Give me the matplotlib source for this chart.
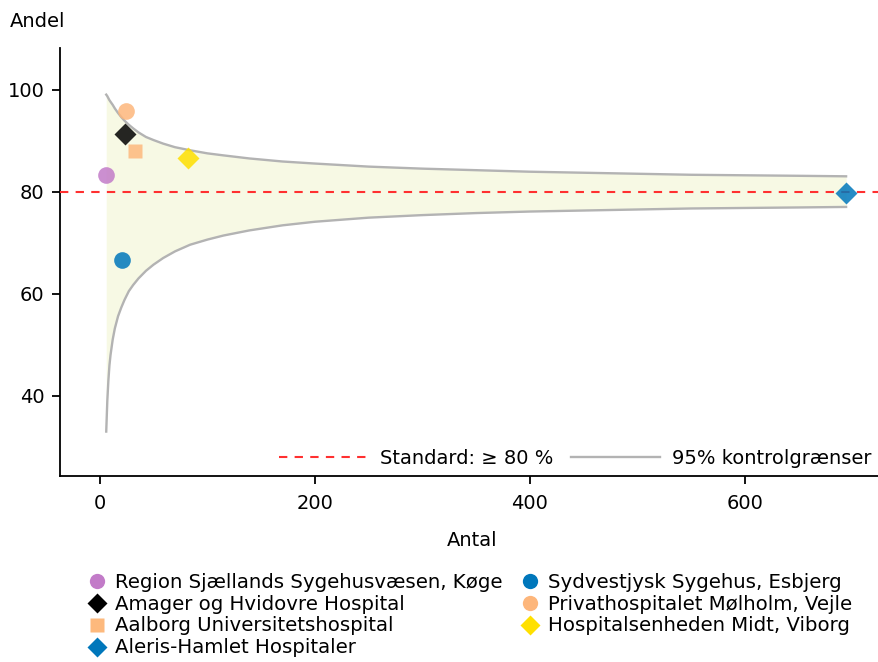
import matplotlib.pyplot as plt
from matplotlib.lines import Line2D

# hospitals: number of patients (Antal) and share (Andel, %)
hospitals = ["Region Sjællands Sygehusvæsen, Køge", "Amager og Hvidovre Hospital",
             "Aalborg Universitetshospital", "Aleris-Hamlet Hospitaler",
             "Sydvestjysk Sygehus, Esbjerg", "Privathospitalet Mølholm, Vejle",
             "Hospitalsenheden Midt, Viborg"]
antal = [6, 23, 33, 694, 21, 24, 82]
andel = [83.3, 91.3, 87.9, 79.8, 66.7, 95.8, 86.6]
markers = ["o", "D", "s", "D", "o", "o", "D"]
colors = ["#c27bc8", "#000000", "#fdb97d", "#0077bb", "#0077bb", "#fdb67b", "#ffe000"]

standard = 80

# 95% control limits
limit_n = [6, 7, 8, 9, 10, 12, 14, 17, 20, 23, 27, 31, 36, 43, 50, 59, 70, 84,
           100, 115, 139, 170, 200, 250, 300, 350, 400, 450, 500, 550, 600, 650, 694]
upper = [99.0, 98.7, 98.3, 97.9, 97.6, 97.0, 96.3, 95.4, 94.6, 93.9, 93.1, 92.4, 91.6, 90.7,
         90.1, 89.4, 88.7, 88.1, 87.5, 87.1, 86.5, 85.9, 85.5, 84.9, 84.5, 84.2, 83.9, 83.7,
         83.5, 83.3, 83.2, 83.1, 83.0]
lower = [33.0, 39.0, 43.0, 46.0, 48.0, 51.0, 53.2, 55.6, 57.3, 58.8, 60.5, 61.7, 63.0, 64.5,
         65.7, 67.0, 68.3, 69.6, 70.6, 71.4, 72.4, 73.4, 74.1, 74.9, 75.4, 75.8, 76.1, 76.3,
         76.5, 76.7, 76.8, 76.9, 77.0]

plt.rcParams['font.family'] = ['DejaVu Sans']
fig = plt.figure(figsize=(8.79, 6.62), dpi=100)
ax = fig.add_axes([0.068, 0.281, 0.932, 0.647])

ax.fill_between(limit_n, lower, upper, color="#f7f9e4", lw=0, zorder=1)
ax.plot(limit_n, upper, color="#b3b3b3", lw=1.7, zorder=2)
ax.plot(limit_n, lower, color="#b3b3b3", lw=1.7, zorder=2)
ax.axhline(standard, color="#ff3030", lw=1.5, ls=(0, (4, 3.5)), zorder=3)

for n, p, m, c in zip(antal, andel, markers, colors):
    size = 12 if m == "o" else (10.5 if m == "s" else 11)
    ax.plot(n, p, marker=m, color=c, ms=size, ls="none", alpha=0.85, mec="none", zorder=4)

ax.set_xlim(-37.2, 724.6)
ax.set_ylim(24.3, 108.2)
ax.set_xticks([0, 200, 400, 600])
ax.set_yticks([40, 60, 80, 100])
ax.spines[['top', 'right']].set_visible(False)
ax.spines[['left', 'bottom']].set_linewidth(1.3)
ax.tick_params(length=6, width=1.3, labelsize=14)
ax.tick_params(axis='x', pad=7)
ax.tick_params(axis='y', pad=5)

line_handles = [Line2D([], [], color="#ff3030", lw=1.5, ls=(0, (4, 3.5))),
                Line2D([], [], color="#b3b3b3", lw=1.7)]
ax.legend(line_handles, ["Standard: ≥ 80 %", "95% kontrolgrænser"], loc="lower right",
          ncol=2, frameon=False, fontsize=14, handlelength=4.6, columnspacing=0.9,
          handletextpad=0.6, borderaxespad=0.2, borderpad=0.2)

fig.text(0.011, 0.968, "Andel", fontsize=14, ha="left", va="center")
fig.text(0.537, 0.184, "Antal", fontsize=14, ha="center", va="center")

point_handles = [Line2D([], [], marker=m, color=c, ms=(11 if m == "o" else 10), ls="none", mec="none")
                 for m, c in zip(markers, colors)]
fig.legend(point_handles, hospitals, loc="upper left", bbox_to_anchor=(0.088, 0.15),
           ncol=2, frameon=False, fontsize=14.2, handlelength=1.0, handletextpad=0.4,
           columnspacing=0.9, labelspacing=0.15, borderpad=0)

fig.savefig("out.png", dpi=100)
